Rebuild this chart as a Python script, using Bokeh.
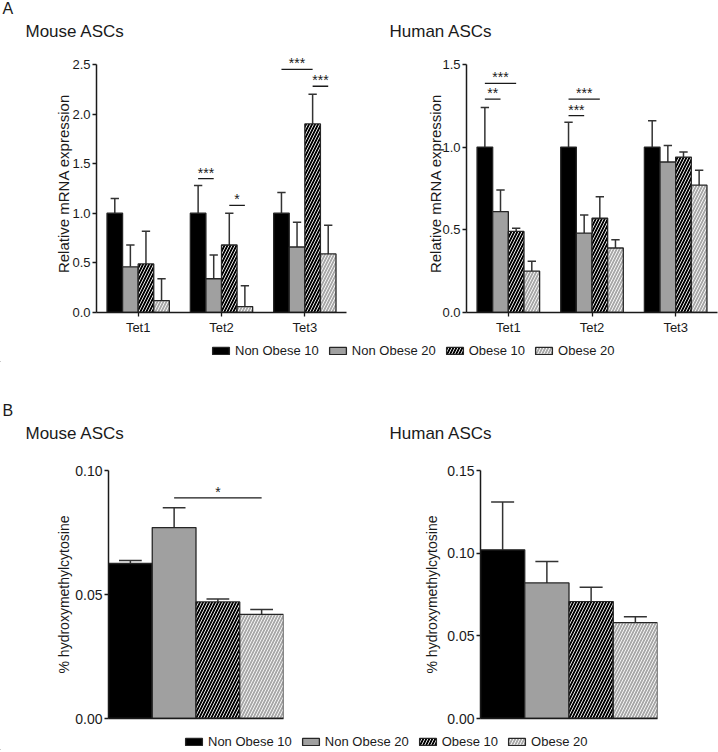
from bokeh.plotting import figure
from bokeh.models import (Range1d, FixedTicker, Legend, LegendItem,
                          ColumnDataSource, NumeralTickFormatter)
from bokeh.layouts import column, row
from bokeh.embed import file_html
from bokeh.resources import INLINE
from bokeh.core.properties import value

FONT = "Liberation Sans"
TXT = "#1a1a1a"
EDGE = "#262626"

# ---------------- data ----------------
groups = ["Non Obese 10", "Non Obese 20", "Obese 10", "Obese 20"]
genes = ["Tet1", "Tet2", "Tet3"]

# Panel A - mouse ASCs, relative mRNA expression (mean, SEM)
mouse_mrna_non10 = [1.00, 1.00, 1.00]
mouse_mrna_non20 = [0.46, 0.34, 0.66]
mouse_mrna_ob10 = [0.49, 0.68, 1.90]
mouse_mrna_ob20 = [0.12, 0.06, 0.59]
mouse_mrna_err_non10 = [0.15, 0.28, 0.21]
mouse_mrna_err_non20 = [0.22, 0.24, 0.25]
mouse_mrna_err_ob10 = [0.33, 0.32, 0.30]
mouse_mrna_err_ob20 = [0.22, 0.21, 0.29]

# Panel A - human ASCs
human_mrna_non10 = [1.00, 1.00, 1.00]
human_mrna_non20 = [0.61, 0.48, 0.91]
human_mrna_ob10 = [0.49, 0.57, 0.94]
human_mrna_ob20 = [0.25, 0.39, 0.77]
human_mrna_err_non10 = [0.24, 0.15, 0.16]
human_mrna_err_non20 = [0.13, 0.11, 0.10]
human_mrna_err_ob10 = [0.02, 0.13, 0.03]
human_mrna_err_ob20 = [0.06, 0.05, 0.09]

# significance brackets, panel A
mouse_sig_gene = ["Tet2", "Tet2", "Tet3", "Tet3"]
mouse_sig_from = ["Non Obese 10", "Obese 10", "Non Obese 10", "Obese 10"]
mouse_sig_to = ["Non Obese 20", "Obese 20", "Obese 10", "Obese 20"]
mouse_sig_y = [1.35, 1.08, 2.45, 2.28]
mouse_sig_text = ["***", "*", "***", "***"]

human_sig_gene = ["Tet1", "Tet1", "Tet2", "Tet2"]
human_sig_from = ["Non Obese 10", "Non Obese 10", "Non Obese 10", "Non Obese 10"]
human_sig_to = ["Non Obese 20", "Obese 10", "Non Obese 20", "Obese 10"]
human_sig_y = [1.29, 1.385, 1.19, 1.29]
human_sig_text = ["**", "***", "***", "***"]

# Panel B - % hydroxymethylcytosine (mean, SEM)
mouse_hmc = [0.0625, 0.077, 0.047, 0.042]
mouse_hmc_err = [0.0012, 0.008, 0.0012, 0.002]
human_hmc = [0.102, 0.082, 0.0707, 0.058]
human_hmc_err = [0.029, 0.013, 0.0087, 0.0035]

mouse_hmc_sig_from = ["Non Obese 20"]
mouse_hmc_sig_to = ["Obese 20"]
mouse_hmc_sig_y = [0.089]
mouse_hmc_sig_text = ["*"]

panel_letters = ["A", "B"]
panel_titles = ["Mouse ASCs", "Human ASCs"]

# ---------------- styles ----------------
styles = [
    dict(fill_color="#000000", line_color=EDGE, line_width=1.3),
    dict(fill_color="#a0a0a0", line_color=EDGE, line_width=1.3),
    dict(fill_color="#000000", line_color=EDGE, line_width=1.3,
         hatch_pattern="/", hatch_color="#ffffff", hatch_scale=6, hatch_weight=0.9),
    dict(fill_color="#a8a8a8", line_color=EDGE, line_width=1.3,
         hatch_pattern="/", hatch_color="#ffffff", hatch_scale=6, hatch_weight=0.9),
]

BAR_W = 0.187
OFFS = [-1.5 * BAR_W, -0.5 * BAR_W, 0.5 * BAR_W, 1.5 * BAR_W]


def blank_fig(width, height):
    p = figure(width=width, height=height, x_range=Range1d(0, width),
               y_range=Range1d(height, 0), toolbar_location=None,
               output_backend="svg", min_border=0,
               x_axis_location=None, y_axis_location=None)
    p.outline_line_color = None
    p.xgrid.visible = False
    p.ygrid.visible = False
    return p


def header_fig(width, height, letter, letter_y, title_y, title_x):
    p = blank_fig(width, height)
    p.text(x=[2], y=[letter_y], text=[letter], text_font=value(FONT),
           text_font_size="16px", text_color=TXT, text_baseline="middle")
    p.text(x=title_x, y=[title_y] * len(panel_titles), text=panel_titles,
           text_font=value(FONT), text_font_size="17px", text_color=TXT,
           text_baseline="middle")
    return p


def base_fig(width, height, xr, yr, mb):
    p = figure(width=width, height=height, x_range=xr, y_range=yr,
               toolbar_location=None, output_backend="svg",
               min_border_left=mb[0], min_border_right=mb[1],
               min_border_top=mb[2], min_border_bottom=mb[3])
    p.outline_line_color = None
    p.xgrid.visible = False
    p.ygrid.visible = False
    for ax in (p.xaxis, p.yaxis):
        ax.axis_line_color = TXT
        ax.axis_line_width = 1.5
        ax.major_tick_line_color = TXT
        ax.major_tick_line_width = 1.3
        ax.major_tick_in = 0
        ax.major_tick_out = 4
        ax.minor_tick_line_color = None
        ax.major_label_text_font = FONT
        ax.major_label_text_color = TXT
        ax.axis_label_text_font = FONT
        ax.axis_label_text_color = TXT
        ax.axis_label_text_font_style = "normal"
        ax.major_label_standoff = 2
    return p


def sig_marks(p, xs0, xs1, ys, texts, size="14px"):
    src = ColumnDataSource(dict(x0=xs0, x1=xs1, y=ys, t=texts,
                                xm=[(a + b) / 2 for a, b in zip(xs0, xs1)]))
    p.segment(x0="x0", y0="y", x1="x1", y1="y", source=src,
              line_color=TXT, line_width=1.3)
    p.text(x="xm", y="y", text="t", source=src, text_align="center",
           text_baseline="alphabetic", y_offset=-6,
           text_font=value(FONT), text_font_size=size, text_color=TXT)


def mrna_panel(width, mb, ymax, yticks, series, errs, sig, label_standoff):
    # the range runs a little past the last tick so that the top brackets are not clipped;
    # the axis line itself stops at the last tick
    p = base_fig(width, 290, Range1d(0.5, 3.5), Range1d(0, ymax * 1.04), mb)
    centers = list(range(1, len(genes) + 1))
    cap = 0.05
    for k, (vals, er) in enumerate(zip(series, errs)):
        xs = [c + OFFS[k] for c in centers]
        src = ColumnDataSource(dict(x=xs, top=vals, hi=[v + e for v, e in zip(vals, er)],
                                    xl=[x - cap for x in xs], xr=[x + cap for x in xs]))
        p.segment(x0="x", y0="top", x1="x", y1="hi", source=src,
                  line_color="#333333", line_width=1.5)
        p.segment(x0="xl", y0="hi", x1="xr", y1="hi", source=src,
                  line_color="#333333", line_width=1.5)
        p.vbar(x="x", top="top", bottom=0, width=BAR_W, source=src, **styles[k])
    g_idx = {g: i + 1 for i, g in enumerate(genes)}
    s_idx = {s: k for k, s in enumerate(groups)}
    sg, sf, st, sy, stx = sig
    xs0 = [g_idx[g] + OFFS[s_idx[a]] for g, a in zip(sg, sf)]
    xs1 = [g_idx[g] + OFFS[s_idx[b]] for g, b in zip(sg, st)]
    sig_marks(p, xs0, xs1, sy, stx)

    p.xaxis.ticker = FixedTicker(ticks=centers)
    p.xaxis.major_label_overrides = {c: g for c, g in zip(centers, genes)}
    p.xaxis.major_label_text_font_size = "13px"
    p.xaxis.major_label_standoff = 3
    p.yaxis.ticker = FixedTicker(ticks=yticks)
    p.yaxis.bounds = (0, ymax)
    p.yaxis.formatter = NumeralTickFormatter(format="0.0")
    p.yaxis.major_label_text_font_size = "13px"
    p.yaxis.axis_label = "Relative mRNA expression"
    p.yaxis.axis_label_text_font_size = "15px"
    p.yaxis.axis_label_standoff = label_standoff
    return p


def hmc_panel(width, mb, ymax, yticks, vals, er, sig, label_standoff):
    p = base_fig(width, 274, Range1d(0.5, 4.5), Range1d(0, ymax), mb)
    xs = list(range(1, len(groups) + 1))
    cap = 0.26
    for k in range(len(groups)):
        src = ColumnDataSource(dict(x=[xs[k]], top=[vals[k]], hi=[vals[k] + er[k]],
                                    xl=[xs[k] - cap], xr=[xs[k] + cap]))
        p.segment(x0="x", y0="top", x1="x", y1="hi", source=src,
                  line_color="#333333", line_width=1.5)
        p.segment(x0="xl", y0="hi", x1="xr", y1="hi", source=src,
                  line_color="#333333", line_width=1.5)
        p.vbar(x="x", top="top", bottom=0, width=1.0, source=src, **styles[k])
    if sig is not None:
        sf, st, sy, stx = sig
        s_idx = {s: k + 1 for k, s in enumerate(groups)}
        sig_marks(p, [s_idx[a] for a in sf], [s_idx[b] for b in st], sy, stx)
    p.xaxis.ticker = FixedTicker(ticks=[])
    p.xaxis.major_tick_out = 0
    p.yaxis.ticker = FixedTicker(ticks=yticks)
    p.yaxis.formatter = NumeralTickFormatter(format="0.00")
    p.yaxis.major_label_text_font_size = "14px"
    p.yaxis.axis_label = "% hydroxymethylcytosine"
    p.yaxis.axis_label_text_font_size = "14px"
    p.yaxis.axis_label_standoff = label_standoff
    return p


def legend_fig(width, height, x0, y0):
    p = figure(width=width, height=height, x_range=Range1d(0, 1), y_range=Range1d(0, 1),
               toolbar_location=None, output_backend="svg", min_border=0,
               x_axis_location=None, y_axis_location=None)
    p.outline_line_color = None
    p.xgrid.visible = False
    p.ygrid.visible = False
    items = []
    for g, st in zip(groups, styles):
        # legend proxy: a zero-height bar kept outside the visible range
        r = p.vbar(x=[-1], top=[0], bottom=0, width=0.1, **st)
        items.append(LegendItem(label=g, renderers=[r]))
    leg = Legend(items=items, orientation="horizontal", location=(x0, y0),
                 label_text_font=FONT, label_text_font_size="13px", label_text_color=TXT,
                 glyph_width=21, glyph_height=9, label_standoff=4, spacing=8,
                 padding=0, margin=0, border_line_color=None,
                 background_fill_alpha=0, label_height=14)
    p.add_layout(leg)
    return p


W = 718
headA = header_fig(W, 50, panel_letters[0], 8, 31, [25, 389])
pAm = mrna_panel(370, (96, 24, 4, 28), 2.5, [0, 0.5, 1.0, 1.5, 2.0, 2.5],
                 [mouse_mrna_non10, mouse_mrna_non20, mouse_mrna_ob10, mouse_mrna_ob20],
                 [mouse_mrna_err_non10, mouse_mrna_err_non20, mouse_mrna_err_ob10, mouse_mrna_err_ob20],
                 (mouse_sig_gene, mouse_sig_from, mouse_sig_to, mouse_sig_y, mouse_sig_text),
                 -3)
pAh = mrna_panel(348, (96, 1, 4, 28), 1.5, [0, 0.5, 1.0, 1.5],
                 [human_mrna_non10, human_mrna_non20, human_mrna_ob10, human_mrna_ob20],
                 [human_mrna_err_non10, human_mrna_err_non20, human_mrna_err_ob10, human_mrna_err_ob20],
                 (human_sig_gene, human_sig_from, human_sig_to, human_sig_y, human_sig_text),
                 -5)
legA = legend_fig(W, 22, 210, 4)

headB = header_fig(W, 98, panel_letters[1], 48, 71, [25, 389])
pBm = hmc_panel(370, (108, 87, 10, 16), 0.10, [0, 0.05, 0.10],
                mouse_hmc, mouse_hmc_err,
                (mouse_hmc_sig_from, mouse_hmc_sig_to, mouse_hmc_sig_y, mouse_hmc_sig_text),
                0)
pBh = hmc_panel(348, (110, 61, 10, 16), 0.15, [0, 0.05, 0.10, 0.15],
                human_hmc, human_hmc_err, None, 4)
legB = legend_fig(W, 16, 183, 1)

layout = column(headA, row(pAm, pAh), legA, headB, row(pBm, pBh), legB)
open("out.html", "w").write(file_html(layout, INLINE))
